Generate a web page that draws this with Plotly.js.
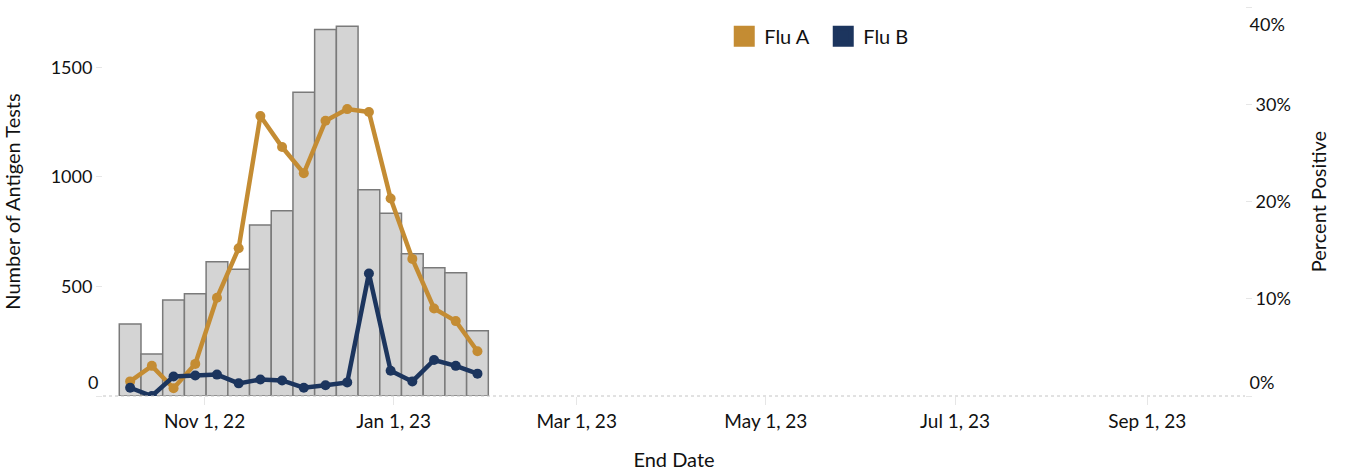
<!DOCTYPE html>
<html>
<head>
<meta charset="utf-8">
<script src="https://cdn.plot.ly/plotly-3.0.1.min.js"></script>
<style>
  html, body { margin: 0; padding: 0; background: #fff; }
  #chart { width: 1347px; height: 474px; }
</style>
</head>
<body>
<div id="chart"></div>
<script>
// Week end dates (Saturday)
const endDates = [
  '2022-10-08','2022-10-15','2022-10-22','2022-10-29','2022-11-05','2022-11-12',
  '2022-11-19','2022-11-26','2022-12-03','2022-12-10','2022-12-17','2022-12-24',
  '2022-12-31','2023-01-07','2023-01-14','2023-01-21','2023-01-28'
];
// Number of antigen tests per week
const antigenTests = [329, 192, 438, 467, 613, 579, 781, 846, 1387, 1673, 1688, 942, 834, 650, 586, 563, 298];
// Percent positive (%)
const fluA = [1.5, 3.1, 0.8, 3.3, 10.1, 15.2, 28.8, 25.6, 22.9, 28.3, 29.5, 29.2, 20.3, 14.1, 9.0, 7.7, 4.6];
const fluB = [0.85, 0.0, 2.0, 2.1, 2.2, 1.3, 1.7, 1.6, 0.85, 1.1, 1.4, 12.6, 2.6, 1.5, 3.7, 3.1, 2.3];
const seriesNames = ['Flu A', 'Flu B'];
const seriesColors = ['#C48C33', '#1C355E'];
// Axis tick values / labels
const countTicksMid = [500, 1000, 1500];
const countLabelsMid = ['500', '1000', '1500'];
const pctTicksMid = [10, 20, 30];
const pctLabelsMid = ['10%', '20%', '30%'];
const pctTop = 40, pctTopLabel = '40%';
const pctZero = 0, pctZeroLabel = '0%';
const countZero = 0, countZeroLabel = '0';

const FONT = 'Lato, "Open Sans", sans-serif';
const WEEK_MS = 7 * 24 * 3600 * 1000;
const COUNT_RANGE = [0, 1776];
const PCT_RANGE = [0, 40];

const hiddenAnchor = (ax) => ({
  type: 'scatter', mode: 'markers', x: [null], y: [null], yaxis: ax,
  showlegend: false, hoverinfo: 'skip'
});

const traces = [
  {
    type: 'bar', x: endDates, y: antigenTests, width: WEEK_MS,
    marker: { color: '#d4d4d4', line: { color: '#7a7a7a', width: 1.5 } },
    showlegend: false, name: 'Antigen Tests', yaxis: 'y'
  },
  {
    type: 'scatter', mode: 'lines+markers', x: endDates, y: fluA, yaxis: 'y2',
    name: seriesNames[0], legendgroup: 'a', showlegend: false,
    line: { color: seriesColors[0], width: 4.5 }, marker: { color: seriesColors[0], size: 10 }
  },
  {
    type: 'scatter', mode: 'lines+markers', x: endDates, y: fluB, yaxis: 'y2',
    name: seriesNames[1], legendgroup: 'b', showlegend: false,
    line: { color: seriesColors[1], width: 4.5 }, marker: { color: seriesColors[1], size: 10 }
  },
  // legend entries (square swatches)
  {
    type: 'scatter', mode: 'markers', x: [null], y: [null], yaxis: 'y2',
    name: seriesNames[0], legendgroup: 'a',
    marker: { symbol: 'square', color: seriesColors[0], size: 16, line: { color: seriesColors[0], width: 5 } }
  },
  {
    type: 'scatter', mode: 'markers', x: [null], y: [null], yaxis: 'y2',
    name: seriesNames[1], legendgroup: 'b',
    marker: { symbol: 'square', color: seriesColors[1], size: 16, line: { color: seriesColors[1], width: 5 } }
  },
  hiddenAnchor('y3'), hiddenAnchor('y4'), hiddenAnchor('y5')
];

const tickCommon = () => ({
  ticks: 'outside', ticklen: 6, tickcolor: '#e6e6e6',
  tickfont: { family: FONT, size: 18, color: '#111' },
  showgrid: false, zeroline: false, showline: false,
  ticklabeloverflow: 'allow', fixedrange: true
});

const layout = {
  width: 1347, height: 474,
  margin: { l: 103, r: 102, t: 7, b: 78 },
  paper_bgcolor: '#ffffff', plot_bgcolor: '#ffffff',
  font: { family: FONT, color: '#111', size: 18 },
  bargap: 0,
  showlegend: true,
  legend: {
    orientation: 'h', x: 0.544, xanchor: 'left', y: 0.925, yanchor: 'middle',
    font: { family: FONT, size: 20, color: '#111' }, entrywidth: 54, entrywidthmode: 'pixels',
    bgcolor: 'rgba(0,0,0,0)'
  },
  xaxis: {
    type: 'date',
    range: ['2022-09-29 06:00', '2023-10-02 12:00'],
    tick0: '2022-11-01', dtick: 'M2', tickformat: '%b %-d, %y',
    ticks: 'outside', ticklen: 8, tickcolor: '#e6e6e6', tickwidth: 1,
    tickfont: { family: FONT, size: 19, color: '#111' },
    showgrid: false, zeroline: false, showline: false,
    title: { text: 'End Date', font: { family: FONT, size: 20, color: '#111' }, standoff: 22 }
  },
  yaxis: Object.assign(tickCommon(), {
    range: COUNT_RANGE, tickmode: 'array', tickvals: countTicksMid, ticktext: countLabelsMid,
    title: { text: 'Number of Antigen Tests', font: { family: FONT, size: 20, color: '#111' }, standoff: 30 }
  }),
  yaxis2: Object.assign(tickCommon(), {
    overlaying: 'y', side: 'right',
    range: PCT_RANGE, tickmode: 'array', tickvals: pctTicksMid, ticktext: pctLabelsMid,
    title: { text: 'Percent Positive', font: { family: FONT, size: 20, color: '#111' }, standoff: 22 }
  }),
  // end labels shifted inward, as in the reference
  yaxis3: Object.assign(tickCommon(), {
    overlaying: 'y', side: 'right', range: PCT_RANGE,
    tickmode: 'array', tickvals: [pctTop], ticktext: [pctTopLabel], ticklabelposition: 'outside bottom',
    ticklabelshift: 5
  }),
  yaxis4: Object.assign(tickCommon(), {
    overlaying: 'y', side: 'right', range: PCT_RANGE,
    tickmode: 'array', tickvals: [pctZero], ticktext: [pctZeroLabel], ticklabelposition: 'outside top'
  }),
  yaxis5: Object.assign(tickCommon(), {
    overlaying: 'y', side: 'left', range: COUNT_RANGE,
    tickmode: 'array', tickvals: [countZero], ticktext: [countZeroLabel], ticklabelposition: 'outside top'
  }),
  shapes: [
    { type: 'line', xref: 'paper', yref: 'paper', x0: 0, x1: 1, y0: 0, y1: 0,
      line: { color: '#c4c4c4', width: 1, dash: 'dot' }, layer: 'above' }
  ]
};

Plotly.newPlot('chart', traces, layout, { displayModeBar: false, staticPlot: true });
</script>
</body>
</html>
